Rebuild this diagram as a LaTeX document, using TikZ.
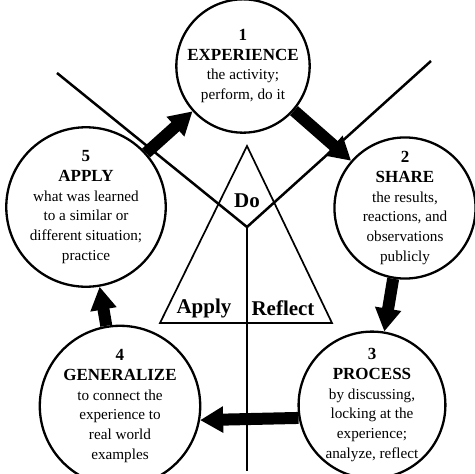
\documentclass[tikz,border=0pt]{standalone}
\usepackage{fontspec}
\setmainfont{Liberation Serif}
\usetikzlibrary{arrows.meta}
\newcommand\stagehead[1]{{\fontsize{17}{19.8}\selectfont\bfseries #1}}
\def\dotriangle{(247,-146) -- (160,-323) -- (332,-323) -- cycle}
\tikzset{stage/.style={circle, draw, fill=white, line width=2.3pt, minimum size=129pt,
        inner sep=0pt, align=center, font=\fontsize{15.2}{19.8}\selectfont},
    flow/.style={line width=12pt, -{Triangle[length=23pt, width=25pt]}},
    corner/.style={font=\fontsize{21}{24}\selectfont\bfseries},
    arm/.style={line width=2.5pt}}

\begin{document}
\begin{tikzpicture}[x=1pt, y=1pt]
  \useasboundingbox (0,0) rectangle (475,-474);
  \coordinate (fork) at (247,-227);
  \coordinate (leftend) at (57,-73);
  \coordinate (rightend) at (431,-61);
  \coordinate (foot) at (247,-471);
  \draw[line width=1.7pt] \dotriangle;
  \draw[arm] (leftend) -- (fork) -- (rightend);
  \draw[arm] (fork) -- (foot);
  \node[corner] (do) at (247,-201) {Do};
  \node[corner] (apply) at (204,-308) {Apply};
  \node[corner] (reflect) at (283,-308) {Reflect};

  \node[stage] (experience) at (243,-66)
    {\stagehead{1}\\ \stagehead{EXPERIENCE}\\ the activity;\\ perform, do it};
  \node[stage] (share) at (405,-208)
    {\stagehead{2}\\ \stagehead{SHARE}\\ the results,\\ reactions, and\\ observations\\ publicly};
  \node[stage] (process) at (372,-405)
    {\stagehead{3}\\ \stagehead{PROCESS}\\ by discussing,\\ locking at the\\ experience;\\ analyze, reflect};
  \node[stage] (generalize) at (120,-406)
    {\stagehead{4}\\ \stagehead{GENERALIZE}\\ to connect the\\ experience to\\ real world\\ examples};
  \node[stage] (applyit) at (86,-207)
    {\stagehead{5}\\ \stagehead{APPLY}\\ what was learned\\ to a similar or\\ different situation;\\ practice};

  \draw[flow] (applyit) -- (experience);
  \draw[flow] (experience) -- (share);
  \draw[flow] (share) -- (process);
  \draw[flow] (process.190) -- (generalize.350);
  \draw[flow] (generalize) -- (applyit);
\end{tikzpicture}
\end{document}
